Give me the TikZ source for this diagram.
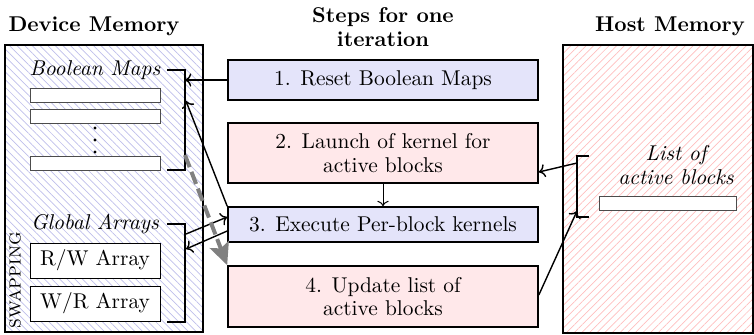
\documentclass[tikz,border=0pt]{standalone}
\usetikzlibrary{patterns.meta,arrows.meta}
\definecolor{devhatch}{RGB}{190,190,235}
\definecolor{hosthatch}{RGB}{255,190,190}
\definecolor{stepblue}{RGB}{228,228,250}
\definecolor{steppink}{RGB}{255,232,234}
\newcommand\myfs{\fontsize{10.7pt}{11.6pt}\selectfont}
\begin{document}
\begin{tikzpicture}[x=0.5pt,y=-0.5pt,
  every node/.style={font=\myfs},
  title/.style={font=\myfs\bfseries, align=center},
  stepbox/.style={draw, line width=0.8pt, minimum width=155pt, align=center, inner sep=0pt},
  stepb/.style={stepbox, fill=stepblue},
  stepp/.style={stepbox, fill=steppink},
  bar/.style={draw=black!70, fill=white, line width=0.5pt, minimum width=65pt, minimum height=7pt, inner sep=0pt},
  arrbox/.style={draw, line width=0.5pt, fill=white, minimum width=65pt, minimum height=17.5pt, inner sep=0pt},
  brk/.style={line width=1pt},
  conn/.style={->, line width=0.7pt},
  memlabel/.style={font=\myfs\itshape, align=center, inner sep=1pt},
  dot/.style={circle, fill=black, inner sep=0pt, minimum size=1.7pt},
]
\useasboundingbox (0,0) rectangle (754,334);

% titles
\node[title] (devtitle) at (94,26) {Device Memory};
\node[title] (steptitle) at (383,27) {Steps for one\\iteration};
\node[title] (hosttitle) at (670,26) {Host Memory};

% memory areas
\path[draw, line width=0.8pt, pattern={Lines[angle=-45,distance=2.7pt,line width=0.35pt]}, pattern color=devhatch] (5,45) rectangle (203,332);
\path[draw, line width=0.8pt, pattern={Lines[angle=45,distance=2.7pt,line width=0.35pt]}, pattern color=hosthatch] (563,45) rectangle (753,333);

% device contents
\node[memlabel] (bmlabel) at (95,70) {Boolean Maps};
\node[bar] (bm1) at (95,95) {};
\node[bar] (bm2) at (95,116.5) {};
\node[bar] (bm3) at (95,163.5) {};
\node[dot] (d1) at (95,128) {};
\node[dot] (d2) at (95,140) {};
\node[dot] (d3) at (95,152) {};
\draw[brk] (167,70) coordinate (bmt) -- (185,70) -- (185,170) -- (167,170) coordinate (bmb);
\coordinate (bmin1) at (185,80);
\coordinate (bmin2) at (186,101);
\coordinate (bmdash) at (185,155);

\node[memlabel] (galabel) at (95,224) {Global Arrays};
\node[arrbox] (rw) at (95,260.5) {R/W Array};
\node[arrbox] (wr) at (95,303.5) {W/R Array};
\draw[brk] (167,224) coordinate (gat) -- (185,224) -- (185,322) -- (167,322) coordinate (gab);
\coordinate (gaout) at (186,234);
\coordinate (gain) at (186,249);

\node[rotate=90, font=\myfs\scshape] (swap) at (15,280) {swapping};

% steps
\node[stepb, minimum height=20pt] (s1) at (383,80) {1. Reset Boolean Maps};
\node[stepp, minimum height=30pt] (s2) at (383,153) {2. Launch of kernel for\\active blocks};
\node[stepb, minimum height=17.5pt] (s3) at (383,224.5) {3. Execute Per-block kernels};
\node[stepp, minimum height=30.5pt] (s4) at (383,296.5) {4. Update list of\\active blocks};

% host contents
\node[memlabel] (lalabel) at (676,165) {List of\\active blocks};
\node[bar, minimum width=68.5pt] (labar) at (667.5,203) {};
\draw[brk] (589,156) -- (577,156) -- (577,217) -- (589,217);
\coordinate (laout) at (577,163);
\coordinate (lain) at (577,211);

% connectors
\draw[conn] (s1.west) -- (bmin1);
\draw[conn] (s3.north west) -- (bmin2);
\draw[conn] (gaout) -- (s3.west |- 0,217);
\draw[conn] (s3.west |- 0,231) -- (gain);
\draw[gray, line width=2pt, dash pattern=on 6.5pt off 2.5pt, -{Stealth[length=11pt,width=10pt,inset=2pt]}] (bmdash) -- (s4.north west);
\draw[->, line width=0.5pt] (s2.south) -- (s3.north);
\draw[conn] (laout) -- (s2.east |- 0,172);
\draw[conn] (s4.east |- 0,295) -- (lain);
\end{tikzpicture}
\end{document}
